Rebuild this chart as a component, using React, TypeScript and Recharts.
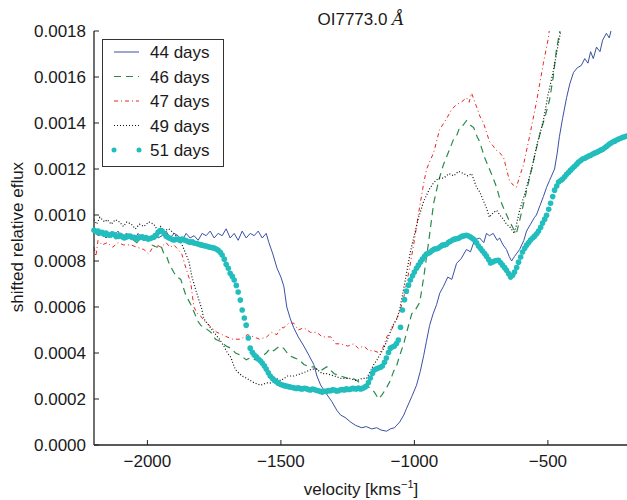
import { Line, LineChart, XAxis, YAxis } from "recharts";

// velocity [km/s], flux
const day44: [number, number][] = [
    [-2200, 0.00093], [-2185, 0.00091], [-2170, 0.00092], [-2155, 0.0009], [-2140, 0.00092],
    [-2125, 0.00091], [-2110, 0.00093], [-2095, 0.0009], [-2080, 0.00092], [-2065, 0.00091],
    [-2050, 0.00089], [-2035, 0.00092], [-2020, 0.0009], [-2005, 0.00091], [-1990, 0.00089],
    [-1975, 0.00092], [-1960, 0.0009], [-1945, 0.00091], [-1930, 0.00093], [-1915, 0.0009],
    [-1900, 0.00092], [-1885, 0.00091], [-1870, 0.00089], [-1855, 0.00092], [-1840, 0.0009],
    [-1825, 0.00091], [-1810, 0.00089], [-1795, 0.00092], [-1780, 0.00091], [-1765, 0.00093],
    [-1750, 0.0009], [-1735, 0.00092], [-1720, 0.00091], [-1705, 0.00094], [-1690, 0.0009],
    [-1675, 0.00092], [-1660, 0.00089], [-1645, 0.00093], [-1630, 0.0009], [-1615, 0.00092],
    [-1600, 0.00091], [-1585, 0.00093], [-1570, 0.0009], [-1555, 0.00092], [-1545, 0.00088],
    [-1530, 0.00083], [-1515, 0.00077], [-1500, 0.00073], [-1489, 0.00069], [-1478, 0.0006],
    [-1465, 0.00055], [-1452, 0.00051], [-1435, 0.00047], [-1414, 0.00043], [-1395, 0.00039],
    [-1377, 0.00035], [-1365, 0.0003], [-1351, 0.00026], [-1328, 0.00022], [-1310, 0.00019],
    [-1290, 0.00015], [-1276, 0.00013], [-1260, 0.00012], [-1239, 0.0001], [-1220, 0.000085],
    [-1197, 0.000075], [-1180, 0.00008], [-1160, 0.00007], [-1141, 0.000075], [-1125, 0.000065],
    [-1104, 0.00006], [-1090, 0.00007], [-1075, 0.000075], [-1055, 0.0001], [-1040, 0.00013],
    [-1029, 0.00016], [-1010, 0.00021], [-992, 0.00026], [-978, 0.00032], [-965, 0.00039],
    [-955, 0.00045], [-943, 0.00052], [-930, 0.00057], [-917, 0.00061], [-905, 0.00066],
    [-891, 0.00069], [-875, 0.00073], [-860, 0.00072], [-842, 0.00079], [-825, 0.00081],
    [-805, 0.00085], [-790, 0.00084], [-775, 0.00089], [-756, 0.0009], [-740, 0.00088],
    [-730, 0.00092], [-719, 0.00091], [-705, 0.00092], [-690, 0.00089], [-681, 0.0009],
    [-668, 0.00087], [-655, 0.00085], [-645, 0.00082], [-636, 0.0008], [-625, 0.00082],
    [-606, 0.00085], [-590, 0.00089], [-580, 0.00093], [-565, 0.00096], [-550, 0.00099],
    [-543, 0.001], [-530, 0.00104], [-517, 0.00108], [-505, 0.00112], [-494, 0.00115],
    [-475, 0.0012], [-465, 0.00127], [-457, 0.00134], [-445, 0.00142], [-430, 0.00151],
    [-418, 0.00157], [-404, 0.00162], [-390, 0.00164], [-375, 0.00165], [-362, 0.00168],
    [-350, 0.00166], [-340, 0.00171], [-330, 0.00168], [-318, 0.00173], [-305, 0.00171],
    [-295, 0.00176], [-281, 0.00179], [-270, 0.00177], [-258, 0.00183], [-245, 0.00182],
    [-230, 0.00186], [-200, 0.00188],
];

const day46: [number, number][] = [
    [-2200, 0.00093], [-2180, 0.00091], [-2160, 0.00092], [-2140, 0.0009], [-2120, 0.00091],
    [-2100, 0.00089], [-2080, 0.00091], [-2060, 0.0009], [-2040, 0.00088], [-2020, 0.0009],
    [-2000, 0.00089], [-1985, 0.00087], [-1964, 0.00086], [-1950, 0.00087], [-1938, 0.00083],
    [-1928, 0.00082], [-1919, 0.00079], [-1901, 0.00075], [-1888, 0.00073], [-1875, 0.00072],
    [-1856, 0.00065], [-1837, 0.00061], [-1826, 0.00058], [-1812, 0.00054], [-1800, 0.00052],
    [-1785, 0.00051], [-1762, 0.00049], [-1745, 0.00046], [-1725, 0.00045], [-1705, 0.00043],
    [-1687, 0.00042], [-1670, 0.0004], [-1650, 0.00039], [-1630, 0.00037], [-1613, 0.00038],
    [-1595, 0.00037], [-1575, 0.00038], [-1555, 0.0004], [-1540, 0.00042], [-1527, 0.00041],
    [-1505, 0.00043], [-1489, 0.00042], [-1470, 0.00039], [-1452, 0.00038], [-1430, 0.00037],
    [-1414, 0.00035], [-1395, 0.00034], [-1377, 0.00034], [-1355, 0.00032], [-1328, 0.00034],
    [-1300, 0.00031], [-1276, 0.0003], [-1250, 0.00029], [-1230, 0.00029], [-1216, 0.00028],
    [-1190, 0.00026], [-1167, 0.00025], [-1150, 0.00023], [-1134, 0.0002], [-1120, 0.00022],
    [-1104, 0.00025], [-1090, 0.00028], [-1078, 0.00032], [-1065, 0.00035], [-1055, 0.00039],
    [-1040, 0.00044], [-1029, 0.00049], [-1010, 0.00057], [-995, 0.00059], [-980, 0.00062],
    [-965, 0.00073], [-947, 0.00088], [-928, 0.00105], [-909, 0.00115], [-891, 0.00122],
    [-870, 0.00128], [-853, 0.00133], [-840, 0.00135], [-831, 0.00138], [-818, 0.00139],
    [-805, 0.00141], [-790, 0.00139], [-778, 0.00138], [-765, 0.00134], [-756, 0.00132],
    [-737, 0.00125], [-719, 0.0012], [-705, 0.00116], [-692, 0.00112], [-680, 0.00107],
    [-666, 0.00103], [-647, 0.00098], [-629, 0.00094], [-618, 0.00092], [-605, 0.00098],
    [-591, 0.00105], [-575, 0.00113], [-561, 0.0012], [-545, 0.00128], [-528, 0.00136],
    [-510, 0.00143], [-494, 0.0015], [-480, 0.0016], [-468, 0.00172], [-455, 0.0018],
    [-446, 0.0019], [-420, 0.0021],
];

const day47: [number, number][] = [
    [-2200, 0.00086], [-2193, 0.00082], [-2185, 0.00089], [-2170, 0.00087], [-2150, 0.00088],
    [-2130, 0.00086], [-2110, 0.00088], [-2090, 0.00087], [-2062, 0.00087], [-2040, 0.00086],
    [-2013, 0.00085], [-1995, 0.00083], [-1980, 0.00086], [-1965, 0.00087], [-1949, 0.00086],
    [-1930, 0.00088], [-1915, 0.00086], [-1901, 0.00087], [-1885, 0.00085], [-1871, 0.00083],
    [-1856, 0.00077], [-1845, 0.00073], [-1837, 0.0007], [-1826, 0.0006], [-1812, 0.00057],
    [-1800, 0.00056], [-1788, 0.00054], [-1777, 0.00053], [-1760, 0.00051], [-1740, 0.00049],
    [-1720, 0.00048], [-1702, 0.00047], [-1680, 0.00046], [-1650, 0.00046], [-1625, 0.00048],
    [-1601, 0.00047], [-1580, 0.00046], [-1553, 0.00047], [-1535, 0.00049], [-1515, 0.00048],
    [-1500, 0.00051], [-1489, 0.00051], [-1470, 0.00053], [-1452, 0.00053], [-1435, 0.0005],
    [-1414, 0.00051], [-1390, 0.00049], [-1366, 0.00049], [-1345, 0.00047], [-1313, 0.00047],
    [-1295, 0.00044], [-1276, 0.00044], [-1250, 0.00043], [-1227, 0.00044], [-1210, 0.00042],
    [-1190, 0.00043], [-1170, 0.00041], [-1152, 0.00041], [-1130, 0.0004], [-1115, 0.00043],
    [-1104, 0.00047], [-1090, 0.00049], [-1078, 0.00052], [-1066, 0.00055], [-1055, 0.00058],
    [-1040, 0.00064], [-1018, 0.00077], [-1000, 0.00089], [-984, 0.00101], [-965, 0.00114],
    [-954, 0.0012], [-940, 0.00124], [-928, 0.00127], [-906, 0.00137], [-879, 0.00142],
    [-860, 0.00146], [-842, 0.00148], [-825, 0.00149], [-805, 0.00151], [-795, 0.00149],
    [-786, 0.00153], [-767, 0.00147], [-755, 0.00143], [-741, 0.0014], [-719, 0.00132],
    [-705, 0.0013], [-692, 0.00128], [-680, 0.00127], [-666, 0.00125], [-655, 0.0012],
    [-644, 0.00115], [-630, 0.00113], [-618, 0.00112], [-605, 0.00117], [-591, 0.00122],
    [-569, 0.00134], [-543, 0.00149], [-517, 0.00166], [-498, 0.00177], [-475, 0.002],
    [-440, 0.0022],
];

const day49: [number, number][] = [
    [-2200, 0.00098], [-2190, 0.00096], [-2178, 0.00099], [-2160, 0.00097], [-2150, 0.00098],
    [-2136, 0.00096], [-2120, 0.00098], [-2105, 0.00097], [-2090, 0.00095], [-2077, 0.00097],
    [-2060, 0.00096], [-2045, 0.00094], [-2030, 0.00096], [-2013, 0.00095], [-1995, 0.00097],
    [-1976, 0.00096], [-1960, 0.00093], [-1950, 0.00095], [-1938, 0.00093], [-1920, 0.00094],
    [-1901, 0.00092], [-1885, 0.0009], [-1870, 0.00087], [-1863, 0.00085], [-1845, 0.0008],
    [-1833, 0.00073], [-1815, 0.00066], [-1796, 0.00059], [-1789, 0.00055], [-1770, 0.00052],
    [-1751, 0.00049], [-1730, 0.00046], [-1714, 0.00043], [-1700, 0.0004], [-1687, 0.00038],
    [-1675, 0.00034], [-1665, 0.00032], [-1645, 0.0003], [-1628, 0.00029], [-1600, 0.00027],
    [-1575, 0.00026], [-1555, 0.00027], [-1538, 0.00027], [-1520, 0.00029], [-1500, 0.00028],
    [-1475, 0.0003], [-1452, 0.0003], [-1425, 0.00031], [-1403, 0.00032], [-1385, 0.00033],
    [-1366, 0.00033], [-1345, 0.00031], [-1328, 0.00031], [-1300, 0.0003], [-1276, 0.00029],
    [-1245, 0.00029], [-1216, 0.00028], [-1195, 0.00029], [-1179, 0.00029], [-1165, 0.00032],
    [-1152, 0.00035], [-1140, 0.00037], [-1130, 0.00039], [-1115, 0.00042], [-1104, 0.00045],
    [-1081, 0.00052], [-1065, 0.00055], [-1055, 0.00059], [-1040, 0.00068], [-1029, 0.00075],
    [-1015, 0.00084], [-1003, 0.0009], [-984, 0.00099], [-965, 0.00106], [-945, 0.00111],
    [-928, 0.00114], [-910, 0.00116], [-891, 0.00116], [-870, 0.00118], [-853, 0.00117],
    [-835, 0.00119], [-816, 0.00118], [-800, 0.00117], [-786, 0.00118], [-767, 0.00112],
    [-755, 0.0011], [-741, 0.00106], [-730, 0.00103], [-719, 0.00099], [-705, 0.00101],
    [-692, 0.00102], [-680, 0.001], [-666, 0.00098], [-655, 0.00096], [-644, 0.00095],
    [-625, 0.00092], [-606, 0.00102], [-590, 0.00108], [-580, 0.00112], [-561, 0.0012],
    [-540, 0.00131], [-517, 0.00141], [-500, 0.00152], [-479, 0.00163], [-457, 0.00177],
    [-434, 0.0019], [-410, 0.0021],
];

const day51: [number, number][] = [
    [-2200, 0.000934], [-2192, 0.000928], [-2185, 0.00093], [-2177, 0.000922], [-2170, 0.000925],
    [-2162, 0.000916], [-2155, 0.000921], [-2147, 0.000914], [-2140, 0.000912], [-2132, 0.000918],
    [-2125, 0.000915], [-2117, 0.000906], [-2110, 0.000908], [-2102, 0.000912], [-2095, 0.000906],
    [-2087, 0.0009], [-2080, 0.000904], [-2072, 0.000907], [-2065, 0.000909], [-2057, 0.000902],
    [-2050, 0.000903], [-2042, 0.000897], [-2035, 0.000899], [-2027, 0.000903], [-2020, 0.000905],
    [-2012, 0.000899], [-2005, 0.000902], [-1997, 0.000896], [-1990, 0.000898], [-1982, 0.000901],
    [-1975, 0.000904], [-1967, 0.000912], [-1960, 0.000925], [-1952, 0.000932], [-1945, 0.00093],
    [-1937, 0.000918], [-1930, 0.000908], [-1922, 0.000902], [-1915, 0.000899], [-1907, 0.000893],
    [-1900, 0.000891], [-1892, 0.000895], [-1885, 0.000893], [-1877, 0.000889], [-1870, 0.000895],
    [-1862, 0.000891], [-1855, 0.000889], [-1847, 0.000884], [-1840, 0.000882], [-1832, 0.000884],
    [-1825, 0.000878], [-1817, 0.000876], [-1810, 0.000874], [-1802, 0.000871], [-1795, 0.000869],
    [-1787, 0.000866], [-1780, 0.000865], [-1772, 0.000862], [-1765, 0.00086], [-1757, 0.000858],
    [-1750, 0.000856], [-1742, 0.000852], [-1735, 0.000847], [-1727, 0.000838], [-1720, 0.000826],
    [-1712, 0.000808], [-1705, 0.000786], [-1697, 0.000768], [-1690, 0.000747], [-1682, 0.000733],
    [-1675, 0.000717], [-1667, 0.000694], [-1660, 0.000665], [-1652, 0.00063], [-1645, 0.000587],
    [-1637, 0.000552], [-1630, 0.000521], [-1622, 0.000465], [-1615, 0.000421], [-1607, 0.000403],
    [-1600, 0.000391], [-1592, 0.000383], [-1585, 0.000374], [-1577, 0.000366], [-1570, 0.000356],
    [-1562, 0.000344], [-1555, 0.00033], [-1547, 0.000314], [-1540, 0.0003], [-1532, 0.00029],
    [-1525, 0.000282], [-1517, 0.000275], [-1510, 0.000269], [-1502, 0.000264], [-1495, 0.000261],
    [-1487, 0.000258], [-1480, 0.000256], [-1472, 0.000254], [-1465, 0.000252], [-1457, 0.00025],
    [-1450, 0.000248], [-1442, 0.000246], [-1435, 0.000249], [-1427, 0.000245], [-1420, 0.000244],
    [-1412, 0.000247], [-1405, 0.000245], [-1397, 0.000241], [-1390, 0.000239], [-1382, 0.000243],
    [-1375, 0.000241], [-1367, 0.000238], [-1360, 0.000236], [-1352, 0.000233], [-1345, 0.00023],
    [-1337, 0.000234], [-1330, 0.000233], [-1322, 0.000237], [-1315, 0.000236], [-1307, 0.00024],
    [-1300, 0.000239], [-1292, 0.000235], [-1285, 0.000236], [-1277, 0.00024], [-1270, 0.000241],
    [-1262, 0.000239], [-1255, 0.000244], [-1247, 0.000241], [-1240, 0.000242], [-1232, 0.000246],
    [-1225, 0.000245], [-1217, 0.000243], [-1210, 0.000248], [-1202, 0.000244], [-1195, 0.000246],
    [-1187, 0.00025], [-1180, 0.000256], [-1172, 0.000272], [-1165, 0.000291], [-1157, 0.000312],
    [-1150, 0.000326], [-1142, 0.000331], [-1135, 0.000335], [-1127, 0.000338], [-1120, 0.000343],
    [-1112, 0.00036], [-1105, 0.000378], [-1097, 0.000402], [-1090, 0.000421], [-1082, 0.000426],
    [-1075, 0.00043], [-1067, 0.000441], [-1060, 0.000456], [-1052, 0.000512], [-1045, 0.000587],
    [-1037, 0.000632], [-1030, 0.000669], [-1022, 0.000695], [-1015, 0.000717], [-1007, 0.000736],
    [-1000, 0.000752], [-992, 0.000768], [-985, 0.000782], [-977, 0.000796], [-970, 0.000808],
    [-962, 0.00082], [-955, 0.00083], [-947, 0.000834], [-940, 0.000839], [-932, 0.000847],
    [-925, 0.000852], [-917, 0.000853], [-910, 0.000856], [-902, 0.000863], [-895, 0.000869],
    [-887, 0.00087], [-880, 0.000873], [-872, 0.000881], [-865, 0.000886], [-857, 0.000891],
    [-850, 0.000895], [-842, 0.000897], [-835, 0.000899], [-827, 0.000904], [-820, 0.000908],
    [-812, 0.00091], [-805, 0.000912], [-797, 0.000909], [-790, 0.000904], [-782, 0.000898],
    [-775, 0.000891], [-767, 0.000879], [-760, 0.000865], [-752, 0.000854], [-745, 0.000843],
    [-737, 0.000832], [-730, 0.000821], [-722, 0.000806], [-715, 0.000791], [-707, 0.000796],
    [-700, 0.0008], [-692, 0.000802], [-685, 0.000803], [-677, 0.000792], [-670, 0.000782],
    [-662, 0.000771], [-655, 0.00076], [-647, 0.000745], [-640, 0.00073], [-632, 0.000738],
    [-625, 0.000752], [-617, 0.000772], [-610, 0.000795], [-602, 0.000817], [-595, 0.000839],
    [-587, 0.000855], [-580, 0.000869], [-572, 0.00088], [-565, 0.000891], [-557, 0.0009],
    [-550, 0.000908], [-542, 0.000918], [-535, 0.00093], [-527, 0.000947], [-520, 0.000965],
    [-512, 0.000982], [-505, 0.000999], [-497, 0.001025], [-490, 0.001051], [-482, 0.00108],
    [-475, 0.001108], [-467, 0.001126], [-460, 0.001143], [-452, 0.00115], [-445, 0.001156],
    [-437, 0.001166], [-430, 0.001177], [-422, 0.001186], [-415, 0.001195], [-407, 0.001204],
    [-400, 0.001212], [-392, 0.001221], [-385, 0.00123], [-377, 0.001237], [-370, 0.001243],
    [-362, 0.001247], [-355, 0.001251], [-347, 0.001256], [-340, 0.00126], [-332, 0.001265],
    [-325, 0.001269], [-317, 0.001273], [-310, 0.001277], [-302, 0.001282], [-295, 0.001286],
    [-287, 0.001292], [-280, 0.001299], [-272, 0.001306], [-265, 0.001312], [-257, 0.001317],
    [-250, 0.001321], [-242, 0.001326], [-235, 0.00133], [-227, 0.001334], [-220, 0.001338],
    [-212, 0.00134], [-205, 0.001343],
];

const X_TICKS = [-2000, -1500, -1000, -500];
const Y_TICKS = [0, 0.0002, 0.0004, 0.0006, 0.0008, 0.001, 0.0012, 0.0014, 0.0016, 0.0018];
const LABELS = ["44 days", "46 days", "47 days", "49 days", "51 days"];

const BLUE = "#3a50a4";
const GREEN = "#2b8a4c";
const RED = "#e8261f";
const BLACK = "#111111";
const CYAN = "#22bdbd";
const AXIS = "#222222";
const FONT = "'Liberation Sans', Arial, sans-serif";

const rows = (pts: [number, number][]) => pts.map(([v, f]) => ({ v, f }));

const minus = (v: number) => String(v).replace("-", "\u2212");

function LeftTick({ x, y, payload }: any) {
    return (
        <g>
            <line x1={x + 8} x2={x + 13} y1={y} y2={y} stroke={AXIS} />
            <text x={x} y={y} dy={6} textAnchor="end" fontSize={17} fontFamily={FONT} fill="#1a1a1a">
                {Number(payload.value).toFixed(4)}
            </text>
        </g>
    );
}

function RightTick({ x, y }: any) {
    return <line x1={x - 6} x2={x} y1={y} y2={y} stroke={AXIS} />;
}

function BottomTick({ x, y, payload }: any) {
    return (
        <g>
            <line x1={x} x2={x} y1={y - 12} y2={y - 17} stroke={AXIS} />
            <text x={x} y={y} dy={10} textAnchor="middle" fontSize={17} fontFamily={FONT} fill="#1a1a1a">
                {minus(payload.value)}
            </text>
        </g>
    );
}

function TopTick({ x, y }: any) {
    return <line x1={x} x2={x} y1={y} y2={y + 5} stroke={AXIS} />;
}

export default function App() {
    const samples = [
        { stroke: BLUE, dash: undefined, w: 1 },
        { stroke: GREEN, dash: "7 5", w: 1.2 },
        { stroke: RED, dash: "4 3 1 3", w: 1 },
        { stroke: BLACK, dash: "1 2", w: 1.2 },
    ];

    return (
        <div
            style={{
                position: "absolute",
                left: 0,
                top: 0,
                width: 627,
                height: 500,
                overflow: "hidden",
                background: "#fff",
            }}
        >
            <LineChart width={628} height={500} margin={{ top: 31, right: 0, bottom: 0, left: 0 }}>
                <XAxis
                    dataKey="v"
                    type="number"
                    domain={[-2200, -200]}
                    ticks={X_TICKS}
                    height={55}
                    tickSize={0}
                    tickMargin={12}
                    tickLine={false}
                    axisLine={{ stroke: AXIS, strokeWidth: 1.3 }}
                    tick={BottomTick}
                />
                <XAxis
                    xAxisId="top"
                    orientation="top"
                    dataKey="v"
                    type="number"
                    domain={[-2200, -200]}
                    ticks={X_TICKS}
                    height={0}
                    tickSize={0}
                    tickMargin={0}
                    tickLine={false}
                    axisLine={{ stroke: AXIS, strokeWidth: 1.3 }}
                    tick={TopTick}
                />
                <YAxis
                    type="number"
                    domain={[0, 0.0018]}
                    ticks={Y_TICKS}
                    allowDataOverflow
                    width={94}
                    tickSize={0}
                    tickMargin={8}
                    tickLine={false}
                    axisLine={{ stroke: AXIS, strokeWidth: 1.3 }}
                    tick={LeftTick}
                />
                <YAxis
                    yAxisId="right"
                    orientation="right"
                    type="number"
                    domain={[0, 0.0018]}
                    ticks={Y_TICKS}
                    width={0}
                    tickSize={0}
                    tickMargin={0}
                    tickLine={false}
                    axisLine={false}
                    tick={RightTick}
                />
                <Line data={rows(day44)} dataKey="f" stroke={BLUE} strokeWidth={1} dot={false} activeDot={false} isAnimationActive={false} />
                <Line data={rows(day46)} dataKey="f" stroke={GREEN} strokeWidth={1.2} strokeDasharray="7 5" dot={false} activeDot={false} isAnimationActive={false} />
                <Line data={rows(day47)} dataKey="f" stroke={RED} strokeWidth={1} strokeDasharray="4 3 1 3" dot={false} activeDot={false} isAnimationActive={false} />
                <Line data={rows(day49)} dataKey="f" stroke={BLACK} strokeWidth={1.2} strokeDasharray="1 2" dot={false} activeDot={false} isAnimationActive={false} />
                <Line
                    data={rows(day51)}
                    dataKey="f"
                    stroke="none"
                    dot={{ r: 2.8, fill: CYAN, stroke: "none" }}
                    activeDot={false}
                    isAnimationActive={false}
                />
            </LineChart>

            <svg
                width={627}
                height={500}
                style={{ position: "absolute", left: 0, top: 0, pointerEvents: "none" }}
                fontFamily={FONT}
                fill="#1a1a1a"
            >
                <text x={361} y={25} textAnchor="middle" fontSize={17}>
                    OI7773.0 <tspan fontStyle="italic" fontFamily="'DejaVu Serif', serif">Å</tspan>
                </text>
                <text x={361} y={495} textAnchor="middle" fontSize={17}>
                    velocity [kms<tspan fontSize={11} dy={-7}>−1</tspan>
                    <tspan dy={7}>]</tspan>
                </text>
                <text x={23} y={237} textAnchor="middle" fontSize={17} transform="rotate(-90 23 237)">
                    shifted relative eflux
                </text>

                <rect x={102.5} y={39.5} width={121} height={127} fill="#fff" stroke="#333" strokeWidth={1} />
                {LABELS.map((label, i) => {
                    const cy = 52 + i * 24.5;
                    const s = samples[i];
                    return (
                        <g key={label}>
                            {s ? (
                                <line x1={114} x2={139} y1={cy} y2={cy} stroke={s.stroke} strokeWidth={s.w} strokeDasharray={s.dash} />
                            ) : (
                                <>
                                    <circle cx={114} cy={cy} r={2.5} fill={CYAN} />
                                    <circle cx={139} cy={cy} r={2.5} fill={CYAN} />
                                </>
                            )}
                            <text x={150} y={cy + 6} fontSize={17}>
                                {label}
                            </text>
                        </g>
                    );
                })}
            </svg>
        </div>
    );
}
